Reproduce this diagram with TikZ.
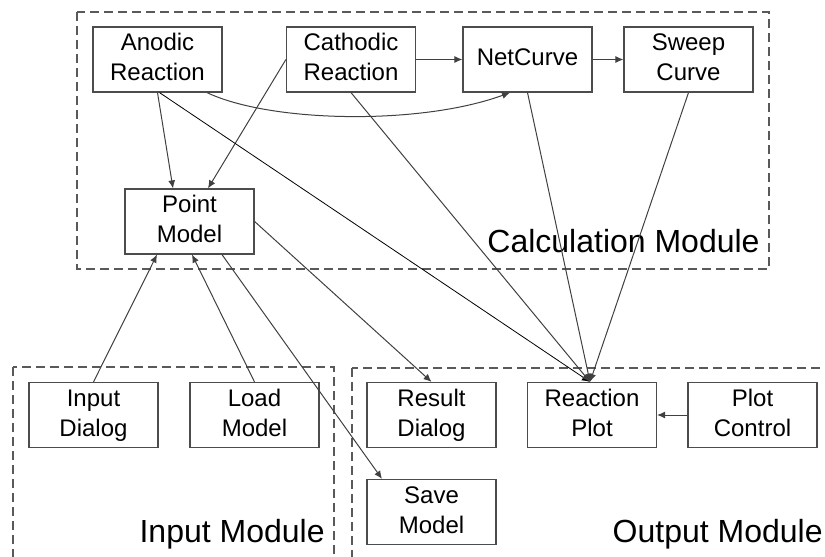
\documentclass[tikz,border=0pt]{standalone}
\usepackage{fontspec}
\setmainfont{Liberation Sans}
\usetikzlibrary{calc, arrows.meta}

\tikzset{
    block/.style = {draw = black!70, line width = 0.6pt, minimum width = 64.5pt, minimum height = 32.5pt, align = center, inner sep = 0pt, font = \fontsize{12}{15}\selectfont},
    module_box/.style = {draw = black!65, line width = 0.6pt, dash pattern = on 4.5pt off 2.5pt},
    module_label/.style = {anchor = base east, inner sep = 0pt, font = \fontsize{16}{19}\selectfont},
    link/.style = {draw = black!75, line width = 0.5pt, -{Latex[length = 4pt, width = 3.5pt]}}
}

\begin{document}
\begin{tikzpicture}[x = 0.5pt, y = -0.5pt]
            \useasboundingbox (0, 0) rectangle (825, 557);
            
            \draw[module_box] (77, 12) rectangle (769, 269);
            \draw[module_box] (13, 367) rectangle (334, 580);
            \draw[module_box] (352, 368) rectangle (850, 580);
            
            \node[module_label] (lbl_calc) at (760, 252) {Calculation Module};
            \node[module_label] (lbl_input) at (325, 542) {Input Module};
            \node[module_label] (lbl_output) at (823, 542) {Output Module};
            
            \node[block] (anodic) at (157.5, 59.5) {\strut Anodic\\\strut Reaction};
            \node[block] (cathodic) at (351, 59.5) {\strut Cathodic\\\strut Reaction};
            \node[block] (net_curve) at (527.5, 59.5) {\strut NetCurve};
            \node[block] (sweep_curve) at (688.5, 59.5) {\strut Sweep\\\strut Curve};
            \node[block] (point_model) at (189.5, 221.5) {\strut Point\\\strut Model};
            
            \node[block] (input_dialog) at (93.5, 415) {\strut Input\\\strut Dialog};
            \node[block] (load_model) at (254.5, 415) {\strut Load\\\strut Model};
            
            \node[block] (result_dialog) at (431.5, 415) {\strut Result\\\strut Dialog};
            \node[block] (reaction_plot) at (592, 415) {\strut Reaction\\\strut Plot};
            \node[block] (plot_control) at (752.5, 415) {\strut Plot\\\strut Control};
            \node[block] (save_model) at (431.5, 512) {\strut Save\\\strut Model};
            
            \draw[link] (cathodic) -- (net_curve);
            \draw[link] (net_curve) -- (sweep_curve);
            \draw[link] ([xshift = 24.75pt]anodic.south) .. controls +(63, 30) and +(-90, 33) .. ([xshift = -8.75pt]net_curve.south);
            
            \draw[link] (anodic.south) -- ([xshift = -8.25pt]point_model.north);
            \draw[link] (cathodic.west) -- ([xshift = 9.25pt]point_model.north);
            
            \draw[link, draw = black, line width = 0.4pt] ([xshift = 1pt]anodic.south) -- ([xshift = -1pt]reaction_plot.north);
            \draw[link] (cathodic.south) -- ([xshift = -1pt]reaction_plot.north);
            \draw[link] (net_curve.south) -- ([xshift = -1pt]reaction_plot.north);
            \draw[link] (sweep_curve.south) -- ([xshift = -1pt]reaction_plot.north);
            
            \draw[link] (point_model.east) -- (result_dialog.north);
            \draw[link] ([xshift = 16.25pt]point_model.south) -- ([xshift = -24.75pt]save_model.north);
            
            \draw[link] (input_dialog.north) -- ([xshift = -16.25pt]point_model.south);
            \draw[link] (load_model.north) -- ([xshift = 1.25pt]point_model.south);
            
            \draw[link] (plot_control) -- (reaction_plot);
        \end{tikzpicture}
\end{document}
